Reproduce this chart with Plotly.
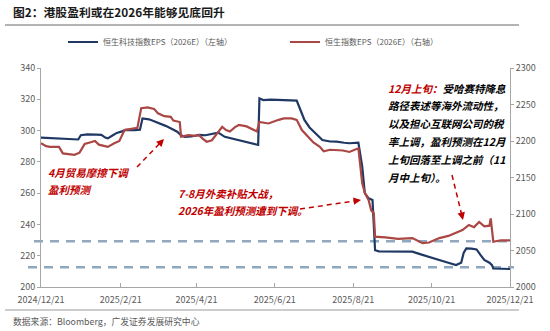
import math
import plotly.graph_objects as go

# ---------------- data ----------------
hstech_dates = ["2024-12-21","2024-12-28","2025-01-04","2025-01-10","2025-01-16","2025-01-19","2025-01-21","2025-01-26",
                "2025-02-02","2025-02-06","2025-02-09","2025-02-11","2025-02-14","2025-02-18","2025-02-22","2025-02-25",
                "2025-03-04","2025-03-08","2025-03-10","2025-03-15","2025-03-19","2025-03-24","2025-03-28","2025-04-02",
                "2025-04-06","2025-04-09","2025-04-12","2025-04-17","2025-04-23","2025-04-28","2025-05-02","2025-05-08",
                "2025-05-13","2025-05-18","2025-05-22","2025-05-27","2025-06-01","2025-06-05","2025-06-08","2025-06-09",
                "2025-06-12","2025-06-18","2025-06-25","2025-07-02","2025-07-08","2025-07-11","2025-07-14","2025-07-18",
                "2025-07-20","2025-07-24","2025-07-28","2025-08-03","2025-08-08","2025-08-14","2025-08-18","2025-08-25",
                "2025-08-28","2025-08-30","2025-09-02","2025-09-05","2025-09-07","2025-09-10","2025-09-20","2025-10-06",
                "2025-10-12","2025-10-19","2025-10-27","2025-11-03","2025-11-09","2025-11-13","2025-11-15","2025-11-17",
                "2025-11-21","2025-11-25","2025-11-28","2025-12-01","2025-12-05","2025-12-07","2025-12-08","2025-12-14",
                "2025-12-21"]
hstech_eps = [295.5,295.2,295.0,294.5,294.2,294.3,297.0,297.6,297.4,297.2,295.5,295.0,296.5,298.5,299.5,300.4,
              300.3,300.6,307.8,307.2,306.0,304.5,303.0,301.0,299.3,297.0,296.0,296.2,297.2,297.0,297.6,298.7,
              296.0,295.0,294.5,293.5,292.5,291.5,290.8,320.6,319.5,319.8,319.6,319.7,319.2,313.0,306.8,302.0,
              300.4,297.0,294.0,293.0,292.9,292.2,291.9,292.3,277.0,260.0,256.7,255.6,223.5,222.8,222.6,222.6,
              221.0,219.4,217.3,215.5,214.0,215.5,222.0,224.7,224.5,224.0,220.5,217.3,215.5,214.0,211.8,211.5,
              211.5]

hsi_dates = ["2024-12-21","2024-12-25","2024-12-28","2025-01-04","2025-01-07","2025-01-12","2025-01-16","2025-01-20",
             "2025-01-24","2025-01-28","2025-02-01","2025-02-04","2025-02-11","2025-02-16","2025-02-20","2025-02-24",
             "2025-03-01","2025-03-06","2025-03-09","2025-03-14","2025-03-19","2025-03-22","2025-03-27","2025-04-01",
             "2025-04-03","2025-04-08","2025-04-09","2025-04-15","2025-04-20","2025-04-23","2025-04-26","2025-04-29",
             "2025-05-03","2025-05-07","2025-05-11","2025-05-14","2025-05-17","2025-05-21","2025-05-24","2025-05-30",
             "2025-06-03","2025-06-07","2025-06-09","2025-06-16","2025-06-24","2025-06-28","2025-07-04","2025-07-08",
             "2025-07-12","2025-07-16","2025-07-21","2025-07-26","2025-07-29","2025-08-03","2025-08-08","2025-08-13",
             "2025-08-18","2025-08-22","2025-08-25","2025-08-28","2025-08-30","2025-09-02","2025-09-04","2025-09-06",
             "2025-09-07","2025-09-15","2025-09-25","2025-10-06","2025-10-14","2025-10-19","2025-10-27","2025-11-03",
             "2025-11-09","2025-11-14","2025-11-19","2025-11-23","2025-11-27","2025-12-01","2025-12-05","2025-12-06",
             "2025-12-08","2025-12-14","2025-12-21"]
hsi_eps = [2197,2193,2192,2192,2183,2182,2181,2184,2196,2198,2200,2195,2192,2197,2200,2215,
           2217,2218,2245,2246,2244,2238,2234,2233,2228,2226,2206,2208,2207,2208,2203,2199,
           2201,2211,2219.5,2215,2213,2219,2222,2220,2216,2213,2226,2224,2229,2231,2231,2229,
           2215,2208,2198,2192,2186,2188,2188,2187,2185,2188,2190,2142,2129,2119,2105,2101,
           2069,2068,2066,2067,2060,2061,2067,2070,2074,2078,2085,2082,2089,2083,2084,2094,
           2062,2064,2064]

x_tickvals = ["2024-12-21","2025-02-21","2025-04-21","2025-06-21","2025-08-21","2025-10-21","2025-12-21"]
x_ticktext = ["2024/12/21","2025/2/21","2025/4/21","2025/6/21","2025/8/21","2025/10/21","2025/12/21"]
ref_levels_left = [229.3, 212.7]

series_names = ["恒生科技指数EPS（2026E）（左轴）", "恒生指数EPS（2026E）（右轴）"]

# ---------------- style ----------------
FONT = "Noto Sans CJK SC"
NAVY = "#1F3864"
RED = "#AA4643"
ANN_RED = "#C00000"
GRAY_TXT = "#595959"
AXIS = "#A6A6A6"
DASH = "#8FA8C0"

W, H = 550, 331
ML, MR, MT, MB = 41, 40, 68, 44
PW, PH = W - ML - MR, H - MT - MB

def px(x):
    return (x - ML) / PW

def py(y):
    return (H - MB - y) / PH

fig = go.Figure()
fig.add_trace(go.Scatter(x=hstech_dates, y=hstech_eps, name=series_names[0], mode="lines",
                         line=dict(color=NAVY, width=2.2), yaxis="y", legend="legend"))
fig.add_trace(go.Scatter(x=hsi_dates, y=hsi_eps, name=series_names[1], mode="lines",
                         line=dict(color=RED, width=2.2), yaxis="y2", legend="legend2"))

shapes = []
# reference dashed lines
for lvl, x0 in zip(ref_levels_left, [px(34), px(28)]):
    shapes.append(dict(type="line", xref="paper", yref="y", x0=x0, x1=px(514), y0=lvl, y1=lvl,
                       line=dict(color=DASH, width=2.5, dash="9px,7px"), layer="below"))
# header / footer rules
shapes.append(dict(type="line", xref="paper", yref="paper", x0=px(5), x1=px(519), y0=py(25), y1=py(25),
                   line=dict(color="#9A9A9A", width=1.5)))
shapes.append(dict(type="line", xref="paper", yref="paper", x0=px(5), x1=px(519), y0=py(310), y1=py(310),
                   line=dict(color="#9A9A9A", width=1.2)))

annotations = []
# dashed arrows (start pixel, tip pixel)
arrows = [((137, 167), (164, 139)), ((300, 209), (361, 200)), ((452, 175), (463, 220))]
for (sx, sy), (tx, ty) in arrows:
    dx, dy = tx - sx, ty - sy
    L = math.hypot(dx, dy)
    ux, uy = dx / L, dy / L
    ex, ey = tx - ux * 5, ty - uy * 5
    shapes.append(dict(type="line", xref="paper", yref="paper", x0=px(sx), y0=py(sy), x1=px(ex), y1=py(ey),
                       line=dict(color=ANN_RED, width=1.5, dash="5px,4px")))
    annotations.append(dict(xref="paper", yref="paper", x=px(tx), y=py(ty), ax=-ux * 7, ay=-uy * 7,
                            text="", showarrow=True, arrowhead=2, arrowsize=1, arrowwidth=1.5,
                            arrowcolor=ANN_RED, standoff=0))

def txt(x, y, s, color=ANN_RED, size=10.5):
    annotations.append(dict(xref="paper", yref="paper", x=px(x), y=py(y), xanchor="left", yanchor="middle",
                            text=s, showarrow=False, font=dict(family=FONT, size=size, color=color)))

txt(46, 172, "<b><i>4月贸易摩擦下调</i></b>")
txt(46, 189, "<b><i>盈利预测</i></b>")
txt(176, 193, "<b><i>7-8月外卖补贴大战，</i></b>")
txt(176, 210, "<b><i>2026年盈利预测遭到下调。</i></b>")
right_lines = ["<span style='color:%s'>12月上旬：</span>受哈赛特降息" % ANN_RED,
               "路径表述等海外流动性，",
               "以及担心互联网公司的税",
               "率上调，盈利预测在12月",
               "上旬回落至上调之前（11",
               "月中上旬）。"]
for i, s in enumerate(right_lines):
    txt(386, 88 + i * 17.8, "<b><i>" + s + "</i></b>", color="#000000")

# title and source
txt(11, 11, "<b>图2：港股盈利或在2026年能够见底回升</b>", color="#1A1A1A", size=11.8)
txt(11, 321, "数据来源：Bloomberg，广发证券发展研究中心", color=GRAY_TXT, size=8.8)

legend_common = dict(orientation="v", yanchor="middle", xanchor="left",
                     font=dict(family=FONT, size=8, color=GRAY_TXT), itemwidth=30,
                     bgcolor="rgba(0,0,0,0)", borderwidth=0)

fig.update_layout(
    width=W, height=H,
    margin=dict(l=ML, r=MR, t=MT, b=MB, pad=0),
    paper_bgcolor="white", plot_bgcolor="white",
    font=dict(family=FONT, size=9, color=GRAY_TXT),
    showlegend=True,
    legend=dict(x=px(63), y=py(42), **legend_common),
    legend2=dict(x=px(285), y=py(42), **legend_common),
    xaxis=dict(type="date", range=["2024-12-21", "2025-12-21"], tickvals=x_tickvals, ticktext=x_ticktext,
               showgrid=False, zeroline=False, showline=True, linecolor=AXIS, linewidth=1,
               ticks="inside", ticklen=4, tickcolor=AXIS, tickfont=dict(size=9, color=GRAY_TXT),
               ticklabelstandoff=4),
    yaxis=dict(range=[200, 340], dtick=20, showgrid=False, zeroline=False, showline=True,
               linecolor=AXIS, linewidth=1, ticks="outside", ticklen=3, tickcolor=AXIS,
               tickfont=dict(size=9, color=GRAY_TXT)),
    yaxis2=dict(range=[2000, 2300], dtick=50, overlaying="y", side="right", showgrid=False,
                zeroline=False, showline=True, linecolor=AXIS, linewidth=1, ticks="outside", ticklen=3,
                tickcolor=AXIS, tickfont=dict(size=9, color=GRAY_TXT)),
    shapes=shapes,
    annotations=annotations,
)

fig.write_html("out.html")
